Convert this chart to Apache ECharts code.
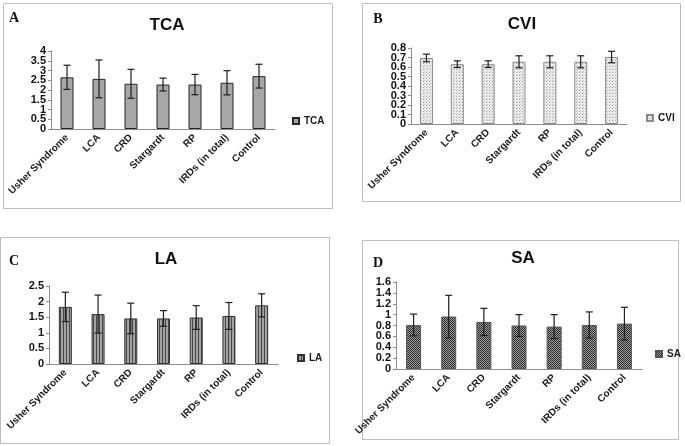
<!DOCTYPE html>
<html>
<head>
<meta charset="utf-8">
<script src="https://cdn.jsdelivr.net/npm/echarts@6/dist/echarts.min.js"></script>
<style>
  html, body { margin: 0; padding: 0; background: #fff; }
  #chart { width: 685px; height: 446px; }
</style>
</head>
<body>
<div id="chart"></div>
<script>
// categories shared by all four panels
var groups = ['Usher Syndrome', 'LCA', 'CRD', 'Stargardt', 'RP', 'IRDs (in total)', 'Control'];

// A - TCA
var tcaMean = [2.65, 2.57, 2.32, 2.28, 2.28, 2.37, 2.71];
var tcaSd   = [0.62, 0.97, 0.74, 0.33, 0.52, 0.62, 0.61];
// B - CVI
var cviMean = [0.695, 0.63, 0.63, 0.655, 0.655, 0.655, 0.705];
var cviSd   = [0.04, 0.035, 0.035, 0.063, 0.063, 0.063, 0.06];
// C - LA
var laMean = [1.83, 1.60, 1.46, 1.46, 1.49, 1.54, 1.88];
var laSd   = [0.47, 0.61, 0.49, 0.25, 0.38, 0.43, 0.37];
// D - SA
var saMean = [0.81, 0.965, 0.865, 0.80, 0.78, 0.81, 0.835];
var saSd   = [0.20, 0.39, 0.25, 0.20, 0.22, 0.24, 0.30];

// y tick labels per panel (bottom to top)
var tcaTicks = ['0', '0.5', '1', '1.5', '2', '2.5', '3', '3.5', '4'];
var cviTicks = ['0', '0.1', '0.2', '0.3', '0.4', '0.5', '0.6', '0.7', '0.8'];
var laTicks  = ['0', '0.5', '1', '1.5', '2', '2.5'];
var saTicks  = ['0', '0.2', '0.4', '0.6', '0.8', '1', '1.2', '1.4', '1.6'];
var yStep = [0.5, 0.1, 0.5, 0.2];

var FONT = "'Liberation Sans', Arial, sans-serif";

// little pattern tiles to imitate the excel fills
function tile(w, h, draw) {
  var c = document.createElement('canvas');
  c.width = w; c.height = h;
  draw(c.getContext('2d'));
  return c;
}
var dotTile = tile(3, 3, function (g) {
  g.fillStyle = '#ececec'; g.fillRect(0, 0, 3, 3);
  g.fillStyle = '#a0a0a0'; g.fillRect(0, 0, 1, 1);
  g.fillStyle = '#c4c4c4'; g.fillRect(1, 2, 1, 1);
});
var stripeTile = tile(3, 1, function (g) {
  g.fillStyle = '#a3a3a3'; g.fillRect(0, 0, 3, 1);
  g.fillStyle = '#484848'; g.fillRect(0, 0, 1, 1);
});
var checkTile = tile(2, 2, function (g) {
  g.fillStyle = '#9c9c9c'; g.fillRect(0, 0, 2, 2);
  g.fillStyle = '#2c2c2c'; g.fillRect(0, 0, 1, 1); g.fillRect(1, 1, 1, 1);
});

var panels = [
  { name: 'TCA', mean: tcaMean, sd: tcaSd, ticks: tcaTicks, grid: { left: 51, top: 51, width: 224, height: 78 },
    fill: '#a9a6a6', border: '#262626', bw: 13, legend: { left: 292, top: 116 } },
  { name: 'CVI', mean: cviMean, sd: cviSd, ticks: cviTicks, grid: { left: 411, top: 48, width: 216, height: 76 },
    fill: { image: dotTile, repeat: 'repeat' }, border: '#8a8a8a', bw: 13, legend: { left: 646, top: 113 } },
  { name: 'LA', mean: laMean, sd: laSd, ticks: laTicks, grid: { left: 49, top: 286, width: 229, height: 78 },
    fill: { image: stripeTile, repeat: 'repeat' }, border: '#303030', bw: 13, legend: { left: 297, top: 353 } },
  { name: 'SA', mean: saMean, sd: saSd, ticks: saTicks, grid: { left: 396, top: 282, width: 246, height: 87 },
    fill: { image: checkTile, repeat: 'repeat' }, border: '#555', bw: 15, legend: { left: 655, top: 349 } }
];

function errorBars(params, api) {
  var i = api.value(0), m = api.value(1), s = api.value(2);
  var hi = api.coord([i, m + s]);
  var lo = api.coord([i, m - s]);
  var st = { stroke: '#1e1e1e', lineWidth: 1.2 };
  return {
    type: 'group',
    children: [
      { type: 'line', shape: { x1: hi[0], y1: hi[1], x2: lo[0], y2: lo[1] }, style: st },
      { type: 'line', shape: { x1: hi[0] - 3.5, y1: hi[1], x2: hi[0] + 3.5, y2: hi[1] }, style: st },
      { type: 'line', shape: { x1: lo[0] - 3.5, y1: lo[1], x2: lo[0] + 3.5, y2: lo[1] }, style: st }
    ]
  };
}

var grid = [], xAxis = [], yAxis = [], series = [], legend = [];
panels.forEach(function (p, k) {
  grid.push(p.grid);
  xAxis.push({
    type: 'category', gridIndex: k, data: groups,
    axisLine: { lineStyle: { color: '#8c8c8c' } },
    axisTick: { length: 4, interval: 0, lineStyle: { color: '#8c8c8c' } },
    axisLabel: { interval: 0, rotate: 45, margin: 7, fontFamily: FONT, fontSize: 10,
                 fontWeight: 'bold', color: '#1a1a1a' }
  });
  // value axis: scale, line and ticks
  yAxis.push({
    type: 'value', gridIndex: k, min: 0, max: Number(p.ticks[p.ticks.length - 1]), interval: yStep[k],
    axisLine: { show: true, lineStyle: { color: '#8c8c8c' } },
    axisTick: { show: true, length: 3, lineStyle: { color: '#8c8c8c' } },
    splitLine: { show: false },
    axisLabel: { show: false }
  });
  // label axis over the same span, so every tight tick label is kept
  yAxis.push({
    type: 'category', gridIndex: k, data: p.ticks, boundaryGap: false, position: 'left',
    axisLine: { show: false }, axisTick: { show: false }, splitLine: { show: false },
    axisLabel: { interval: 0, margin: 5, fontFamily: FONT, fontSize: 11, fontWeight: 'bold', color: '#111' }
  });
  series.push({
    name: p.name, type: 'bar', xAxisIndex: k, yAxisIndex: 2 * k, data: p.mean,
    barWidth: p.bw,
    itemStyle: { color: p.fill, borderColor: p.border, borderWidth: 1 },
    emphasis: { disabled: true }
  });
  series.push({
    type: 'custom', xAxisIndex: k, yAxisIndex: 2 * k, z: 5,
    renderItem: errorBars,
    data: p.mean.map(function (m, i) { return [i, m, p.sd[i]]; })
  });
  legend.push({
    data: [p.name], left: p.legend.left, top: p.legend.top, padding: 0,
    icon: 'rect', itemWidth: 6, itemHeight: 6,
    selectedMode: false,
    textStyle: { fontFamily: FONT, fontSize: 10, fontWeight: 'bold', color: '#1a1a1a' }
  });
});

// panel frames, big titles and panel letters
var frames = [[3, 3, 329, 205], [362, 3, 318, 198], [0, 237, 329, 206], [362, 240, 316, 199]];
var titles = [['TCA', 167, 25], ['CVI', 522, 24], ['LA', 166, 259], ['SA', 523, 258]];
var letters = [['A', 14, 18], ['B', 378, 19], ['C', 14, 261], ['D', 378, 263]];

var graphic = [];
frames.forEach(function (f) {
  graphic.push({ type: 'rect', shape: { x: f[0] + 0.5, y: f[1] + 0.5, width: f[2], height: f[3] },
    style: { fill: 'none', stroke: '#bdbdbd', lineWidth: 1 }, silent: true });
});
titles.forEach(function (t) {
  graphic.push({ type: 'text', x: t[1], y: t[2],
    style: { text: t[0], font: 'bold 17px ' + FONT, fill: '#111', align: 'center', verticalAlign: 'middle' } });
});
letters.forEach(function (t) {
  graphic.push({ type: 'text', x: t[1], y: t[2],
    style: { text: t[0], font: "bold 14px 'Liberation Serif', 'Times New Roman', serif", fill: '#111',
             align: 'center', verticalAlign: 'middle' } });
});

var chart = echarts.init(document.getElementById('chart'));
chart.setOption({
  animation: false,
  grid: grid, xAxis: xAxis, yAxis: yAxis, series: series, legend: legend,
  graphic: graphic
});
</script>
</body>
</html>
